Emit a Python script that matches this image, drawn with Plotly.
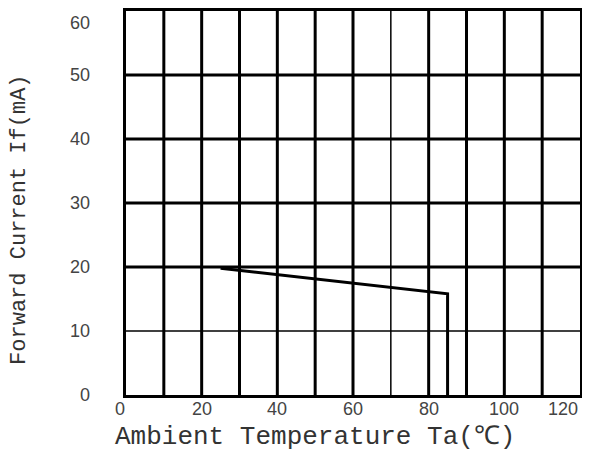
import plotly.graph_objects as go

# Data
temp_c = [25, 85, 85]
current_ma = [19.8, 15.8, 0]

x_ticks = [0, 20, 40, 60, 80, 100, 120]
y_ticks = [0, 10, 20, 30, 40, 50, 60]
x_grid_thick = [10, 20, 30, 40, 50, 60, 80, 90, 100, 110]
x_grid_thin = [70]
y_grid_thick = [20, 30, 40, 50]
y_grid_thin = [10]
x_title = "Ambient Temperature Ta(℃)"
y_title = "Forward Current If(mA)"

fig = go.Figure()
fig.add_trace(go.Scatter(x=temp_c, y=current_ma, mode="lines",
                         line=dict(color="black", width=3), showlegend=False,
                         hoverinfo="skip"))

shapes = []
for v in x_grid_thick:
    shapes.append(dict(type="line", xref="x", yref="paper", x0=v, x1=v, y0=0, y1=1,
                       line=dict(color="black", width=3), layer="below"))
for v in x_grid_thin:
    shapes.append(dict(type="line", xref="x", yref="paper", x0=v, x1=v, y0=0, y1=1,
                       line=dict(color="black", width=1.5), layer="below"))
for v in y_grid_thick:
    shapes.append(dict(type="line", xref="paper", yref="y", x0=0, x1=1, y0=v, y1=v,
                       line=dict(color="black", width=3), layer="below"))
for v in y_grid_thin:
    shapes.append(dict(type="line", xref="paper", yref="y", x0=0, x1=1, y0=v, y1=v,
                       line=dict(color="black", width=1.5), layer="below"))

title_font = dict(family="Liberation Mono, DejaVu Sans Mono", color="#333")
tick_font = dict(family="Liberation Sans, Arial", size=18, color="#444")
annotations = [
    dict(text=x_title, xref="paper", yref="paper", x=0.416, y=0, yshift=-42,
         xanchor="center", yanchor="middle", showarrow=False,
         font=dict(size=26, **title_font)),
    dict(text=y_title, xref="paper", yref="paper", x=0, y=0.456, xshift=-106,
         xanchor="center", yanchor="middle", textangle=-90, showarrow=False,
         font=dict(size=22, **title_font)),
]
# tick labels as annotations so the edge labels stay inside the page
for i, t in enumerate(x_ticks):
    last = i == len(x_ticks) - 1
    annotations.append(dict(text=str(t), xref="x", yref="paper", x=t, y=0,
                            yshift=-14, xshift=(-6 if i == 0 else 0),
                            xanchor=("right" if last else "center"), yanchor="middle",
                            showarrow=False, font=tick_font))
for i, t in enumerate(y_ticks):
    last = i == len(y_ticks) - 1
    annotations.append(dict(text=str(t), xref="paper", yref="y", x=0, y=t,
                            xshift=-34, xanchor="right",
                            yanchor=("top" if last else "middle"),
                            showarrow=False, font=tick_font))

fig.update_layout(
    width=582, height=447,
    margin=dict(l=118, r=10, t=3, b=60),
    paper_bgcolor="white", plot_bgcolor="white",
    shapes=shapes, annotations=annotations,
    xaxis=dict(range=[0, 120], tickvals=x_ticks, showticklabels=False,
               showgrid=False, zeroline=False, showline=True, mirror=True,
               linecolor="black", linewidth=3, ticks="", automargin=False),
    yaxis=dict(range=[0, 60], tickvals=y_ticks, showticklabels=False,
               showgrid=False, zeroline=False, showline=True, mirror=True,
               linecolor="black", linewidth=3, ticks="", automargin=False),
)

fig.write_html("out.html")
